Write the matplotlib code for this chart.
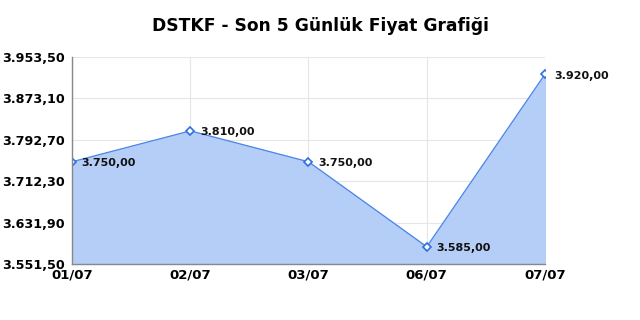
import matplotlib
matplotlib.use("Agg")
import matplotlib.pyplot as plt
from matplotlib.ticker import FuncFormatter

# ── Data ────────────────────────────────────────────
dates  = ['01/07', '02/07', '03/07', '06/07', '07/07']
prices = [3750.00, 3810.00, 3750.00, 3585.00, 3920.00]
y_ticks = [3551.50, 3631.90, 3712.30, 3792.70, 3873.10, 3953.50]


def tr_fmt(v, pos=None):
    # Turkish number style: 3.750,00
    s = f"{v:,.2f}"
    return s.replace(',', 'X').replace('.', ',').replace('X', '.')


fig = plt.figure(figsize=(6.4, 3.2), dpi=100)
ax = fig.add_axes([0.1125, 0.175, 0.739, 0.647])

x = list(range(len(dates)))
ax.fill_between(x, prices, y_ticks[0], color='#b5cef7', zorder=1)
ax.plot(x, prices, color='#4a86e8', lw=0.9, zorder=2,
        marker='D', markersize=4, markerfacecolor='white',
        markeredgecolor='#2f6fe0', markeredgewidth=1.2)

for xi, p in zip(x, prices):
    ax.annotate(tr_fmt(p), (xi, p), xytext=(7, -1), textcoords='offset points',
                fontsize=8, fontweight='bold', color='#111111',
                va='center', ha='left', zorder=3)

ax.set_xlim(0, len(dates) - 1)
ax.set_ylim(y_ticks[0], y_ticks[-1])
ax.set_yticks(y_ticks)
ax.yaxis.set_major_formatter(FuncFormatter(tr_fmt))
ax.set_xticks(x)
ax.set_xticklabels(dates)

ax.grid(True, color='#e6e6e6', lw=0.8, zorder=0)
ax.set_axisbelow(True)
for side in ['top', 'right']:
    ax.spines[side].set_visible(False)
for side in ['left', 'bottom']:
    ax.spines[side].set_color('#888888')
    ax.spines[side].set_linewidth(1.0)
ax.tick_params(axis='y', length=0, labelsize=9.2, pad=5)
ax.tick_params(axis='x', length=0, labelsize=9.5, pad=3)
for lbl in ax.get_xticklabels() + ax.get_yticklabels():
    lbl.set_fontweight('bold')

fig.text(0.5, 0.92, "DSTKF - Son 5 Günlük Fiyat Grafiği",
         ha='center', va='center', fontsize=12.3, fontweight='bold')

fig.savefig("out.png", dpi=100)
